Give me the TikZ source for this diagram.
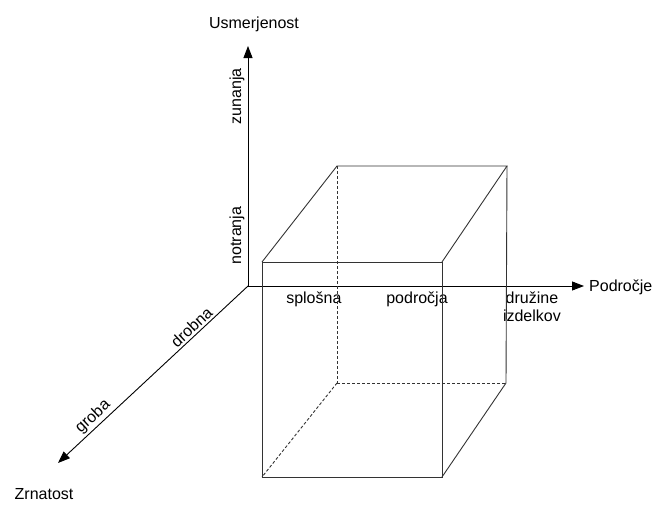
\documentclass[tikz,border=0pt]{standalone}
\usepackage{fontspec}
\setmainfont{Liberation Sans}
\usetikzlibrary{arrows.meta,positioning}
\tikzset{
  axis/.style={-{Triangle[length=12pt,width=9pt]}, draw=black, line width=0.9pt},
  edge/.style={draw=black!80, line width=0.9pt},
  hidden/.style={edge, dash pattern=on 3pt off 2pt},
  lbl/.style={font=\fontsize{16}{18}\selectfont, inner sep=1pt, align=center},
}

\begin{document}
\begin{tikzpicture}[x=1pt,y=-1pt]
\useasboundingbox (0,0) rectangle (656,509);
% --- axes
\coordinate (o) at (248,286);
\coordinate (ytip) at (248,46);
\coordinate (xtip) at (584,286);
\coordinate (ztip) at (58,463);
\draw[axis] (o) -- (ytip)
   node[lbl,pos=0.21,above=2pt,sloped] (notr) {notranja}
   node[lbl,pos=0.79,above=2pt,sloped] (zun) {zunanja};
\draw[axis] (o) -- (xtip)
   node[lbl,pos=0.196,below=4pt] (splo) {splošna}
   node[lbl,pos=0.503,below=4pt] (podr) {področja}
   node[lbl,pos=0.845,below=4pt] (druz) {družine\\izdelkov};
\draw[axis] (o) -- (ztip)
   node[lbl,pos=0.268,above=1pt,sloped] (drob) {drobna}
   node[lbl,pos=0.78,above=1pt,sloped] (grob) {groba};
\node[lbl,above=13pt of ytip,xshift=6pt] (usm) {Usmerjenost};
\node[lbl,right=4pt of xtip,yshift=-1pt] (podrocje) {Področje};
\node[lbl,below=24pt of ztip,xshift=-14pt] (zrn) {Zrnatost};

% --- cube
\coordinate (f1) at (262,262); \coordinate (f2) at (442,262);
\coordinate (f3) at (442,477); \coordinate (f4) at (262,477);
\coordinate (b1) at (337,166); \coordinate (b2) at (507,166);
\coordinate (b3) at (506,383); \coordinate (b4) at (337,383);
\draw[edge] (f1) -- (f2) -- (f3) -- (f4) -- cycle;
\draw[edge] (f1) -- (b1) -- (b2) -- (f2);
\draw[edge] (b2) -- (b3) -- (f3);
\draw[hidden] (b1) -- (b4);
\draw[hidden] (b4) -- (b3);
\draw[hidden] (b4) -- (f4);
\end{tikzpicture}
\end{document}
